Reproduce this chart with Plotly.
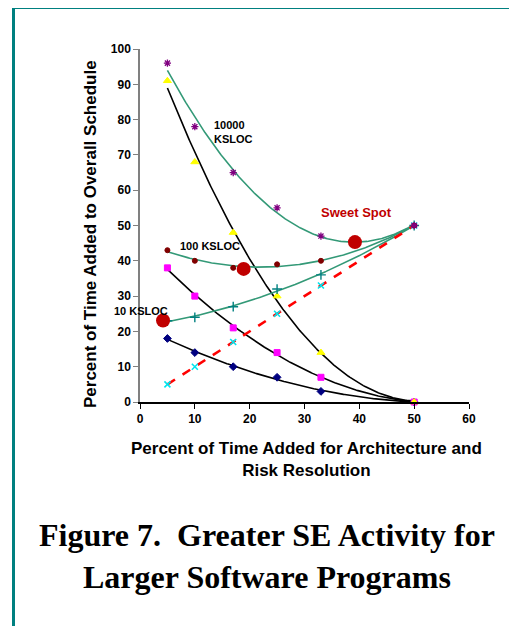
import numpy as np
import plotly.graph_objects as go

# ---- data ----
x_pts = [5, 10, 17, 25, 33, 50]

rework_10 = [18, 14, 10, 7, 3, 0]          # navy diamonds
rework_100 = [38, 30, 21, 14, 7, 0]        # magenta squares
rework_10000 = [91, 68, 48, 30, 14, 0]     # yellow triangles
arch = [5, 10, 17, 25, 33, 50]             # cyan x (architecture time)
total_10 = [23, 24, 27, 32, 36, 50]        # teal +
total_100 = [43, 40, 38, 39, 40, 50]       # brown circles
total_10000 = [96, 78, 65, 55, 47, 50]     # purple asterisks

sweet_x = [4.2, 18.9, 39.2]
sweet_y = [23.1, 37.7, 45.3]

x_ticks = [0, 10, 20, 30, 40, 50, 60]
y_ticks = [0, 10, 20, 30, 40, 50, 60, 70, 80, 90, 100]

FONT = "Arial, Liberation Sans, sans-serif"
GREEN = "#339977"

fig = go.Figure()

xs = np.linspace(min(x_pts), max(x_pts), 200)

def trend(vals, color):
    c = np.polyfit(x_pts, vals, 2)
    fig.add_trace(go.Scatter(x=xs, y=np.polyval(c, xs), mode="lines",
                             line=dict(color=color, width=1.6),
                             hoverinfo="skip", showlegend=False))

for v in (rework_10, rework_100, rework_10000):
    trend(v, "black")
for v in (total_10, total_100, total_10000):
    trend(v, GREEN)

# dashed architecture line
fig.add_trace(go.Scatter(x=[x_pts[0], x_pts[-1]], y=[arch[0], arch[-1]], mode="lines",
                         line=dict(color="#ff0000", width=2.6, dash="dash"),
                         showlegend=False))

def pts(vals, symbol, color, size=6, lw=1):
    fig.add_trace(go.Scatter(x=x_pts, y=vals, mode="markers",
                             marker=dict(symbol=symbol, color=color, size=size,
                                         line=dict(color=color, width=lw)),
                             showlegend=False, cliponaxis=False))

pts(rework_10, "diamond", "#000080")
pts(rework_100, "square", "#ff00ff")
pts(rework_10000, "triangle-up", "#ffff00", 7)
pts(arch, "x-thin", "#00e5ee", 6, 1.6)
pts(total_10, "cross-thin", "#008080", 7, 1.4)
pts(total_100, "circle", "#800000", 5)
pts(total_10000, "asterisk-open", "#800080", 6, 1.3)

fig.add_trace(go.Scatter(x=sweet_x, y=sweet_y, mode="markers",
                         marker=dict(symbol="circle", color="#c00000", size=14),
                         showlegend=False, cliponaxis=False))

# screen pixel positions converted to paper coords
def px(xp):
    return (xp - 140) / 329.0

def py(yp):
    return (402 - yp) / 353.0

# labels
lab = dict(family=FONT, size=11, color="black", weight="bold")
fig.add_annotation(x=13.1, y=76.5, text="10000<br>KSLOC", showarrow=False,
                   xanchor="left", yanchor="middle", align="left", font=lab)
fig.add_annotation(x=6.9, y=44.2, text="100 KSLOC", showarrow=False,
                   xanchor="left", yanchor="middle", font=lab)
fig.add_annotation(xref="paper", yref="paper", x=px(112), y=py(311), text="10 KSLOC",
                   showarrow=False, xanchor="left", yanchor="middle", font=lab)
fig.add_annotation(x=39.4, y=53.8, text="Sweet Spot", showarrow=False,
                   xanchor="center", yanchor="middle",
                   font=dict(family=FONT, size=13, color="#c00000", weight="bold"))

fig.add_annotation(xref="paper", yref="paper", x=px(90), y=py(234),
                   xanchor="center", yanchor="middle",
                   text="Percent of Time Added to Overall Schedule", textangle=-90,
                   showarrow=False, font=dict(family=FONT, size=17, color="black", weight="bold"))
fig.add_annotation(xref="paper", yref="paper", x=px(306), y=py(459),
                   xanchor="center", yanchor="middle",
                   text="Percent of Time Added for Architecture and<br>Risk Resolution",
                   showarrow=False, font=dict(family=FONT, size=17, color="black", weight="bold"))
fig.add_annotation(xref="paper", yref="paper", x=px(267), y=py(556),
                   xanchor="center", yanchor="middle",
                   text="Figure 7.  Greater SE Activity for<br>Larger Software Programs",
                   showarrow=False,
                   font=dict(family="Times New Roman, Liberation Serif, serif", size=32,
                             color="black", weight="bold"))

# teal frame
fig.add_shape(type="line", xref="paper", yref="paper", x0=px(13.5), x1=px(13.5),
              y0=py(6), y1=py(640), line=dict(color="#008080", width=3))
fig.add_shape(type="line", xref="paper", yref="paper", x0=px(12), x1=px(530),
              y0=py(7.5), y1=py(7.5), line=dict(color="#008080", width=3))

# page body adds an 8px offset, so the figure is shrunk by 8px and margins shifted
fig.update_layout(
    width=509, height=618,
    margin=dict(l=132, r=48, t=41, b=224),
    paper_bgcolor="white", plot_bgcolor="white",
    showlegend=False,
)
fig.update_xaxes(range=[0, 60], tickvals=x_ticks, showgrid=False, zeroline=False,
                 showline=True, linecolor="black", linewidth=1.5,
                 ticks="outside", ticklen=5, tickcolor="black",
                 tickfont=dict(family=FONT, size=12, color="black", weight="bold"))
fig.update_yaxes(range=[0, 100], tickvals=y_ticks, showgrid=False, zeroline=False,
                 showline=True, linecolor="#808080", linewidth=1.5,
                 ticks="outside", ticklen=5, tickcolor="#808080",
                 tickfont=dict(family=FONT, size=12, color="black", weight="bold"))

fig.write_html("out.html")
